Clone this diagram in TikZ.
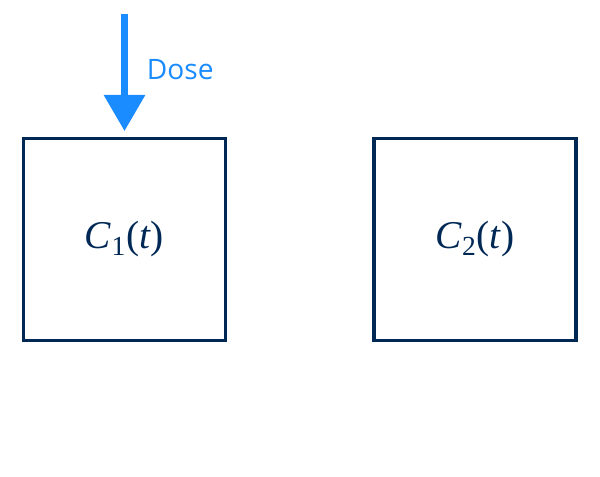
\documentclass[tikz,border=0pt]{standalone}
\usepackage{fontspec}
\setsansfont{Open Sans}
\newfontfamily\serifit{Liberation Serif}
\usetikzlibrary{positioning,arrows.meta}
\definecolor{navy}{HTML}{002855}
\definecolor{doseblue}{HTML}{1A8CFF}
\tikzset{
  comp/.style = {draw=navy, line width=2.2pt, minimum size=5.05cm, inner sep=0pt,
                 text=navy, font=\serifit\fontsize{28}{30}\selectfont},
  Dose/.style = {doseblue, line width=4.5pt,
                 -{Triangle[length=0.9cm,width=1cm]}}
}
\begin{document}
\begin{tikzpicture}[x=0.025cm,y=-0.025cm]
   \useasboundingbox (0,0) rectangle (600,477);
   \node [comp] (c1) at (124.5,239.5) {\textit{C}\textsubscript{1}(\textit{t})};
   \node [comp] (c2) at (475,239.5) {\textit{C}\textsubscript{2}(\textit{t})};
   \coordinate (d0) at (124.5,14);
   \coordinate (d1) at (124.5,131);
   \draw [Dose] (d0) -- (d1);
   \node [doseblue, font=\sffamily\fontsize{20}{22}\selectfont, anchor=west] (dose) at (142,70) {Dose};
\end{tikzpicture}
\end{document}
